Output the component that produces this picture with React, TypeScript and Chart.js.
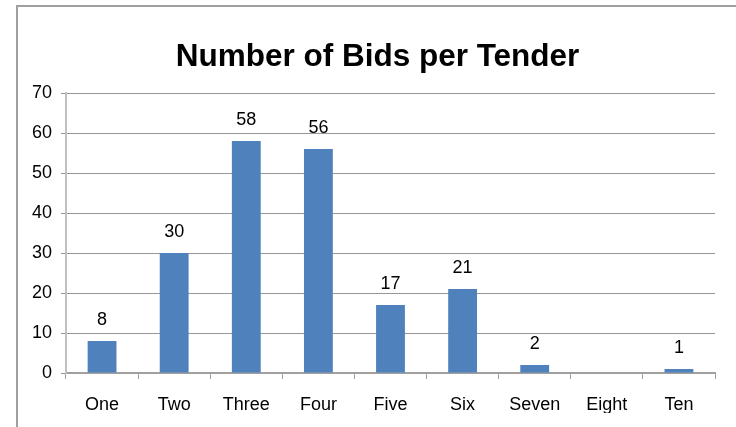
import React, { useEffect, useRef } from "react";
import { Chart, registerables } from "chart.js";

Chart.register(...registerables);

const categories = ["One", "Two", "Three", "Four", "Five", "Six", "Seven", "Eight", "Ten"];
const bids: (number | null)[] = [8, 30, 58, 56, 17, 21, 2, null, 1];
const yTicks = [0, 10, 20, 30, 40, 50, 60, 70];
const titleText = "Number of Bids per Tender";

const FONT = "'Liberation Sans', Arial, sans-serif";

const framePlugin = {
  id: "frame",
  beforeDraw(chart: any) {
    const ctx = chart.ctx;
    ctx.save();
    ctx.fillStyle = "#ffffff";
    ctx.fillRect(0, 0, chart.width, chart.height);
    ctx.strokeStyle = "#a0a0a0";
    ctx.lineWidth = 2;
    ctx.beginPath();
    ctx.moveTo(17, chart.height);
    ctx.lineTo(17, 6);
    ctx.lineTo(chart.width, 6);
    ctx.stroke();
    ctx.restore();
  },
  afterDraw(chart: any) {
    const ctx = chart.ctx;
    ctx.save();
    ctx.fillStyle = "#000000";
    ctx.font = `bold 31.5px ${FONT}`;
    ctx.textAlign = "center";
    ctx.textBaseline = "alphabetic";
    ctx.fillText(titleText, 377.5, 66);
    ctx.font = `18px ${FONT}`;
    const meta = chart.getDatasetMeta(0);
    meta.data.forEach((bar: any, i: number) => {
      const v = bids[i];
      if (v === null || v === undefined) return;
      ctx.fillText(String(v), bar.x, bar.y - 16);
    });
    ctx.restore();
  },
};

export default function App() {
  const ref = useRef<HTMLCanvasElement | null>(null);
  useEffect(() => {
    if (!ref.current) return;
    const chart = new Chart(ref.current, {
      type: "bar",
      data: {
        labels: categories,
        datasets: [
          {
            data: bids,
            backgroundColor: "#4f81bd",
            borderWidth: 0,
            barPercentage: 0.4,
            categoryPercentage: 1,
          },
        ],
      },
      plugins: [framePlugin],
      options: {
        animation: false,
        responsive: true,
        maintainAspectRatio: false,
        layout: { padding: { left: 17, right: 21, top: 93, bottom: 14 } },
        plugins: {
          legend: { display: false },
          title: { display: false },
          tooltip: { enabled: false },
        },
        scales: {
          x: {
            offset: true,
            grid: {
              offset: true,
              drawOnChartArea: false,
              drawTicks: true,
              tickLength: 6,
              color: "#a0a0a0",
              lineWidth: 1,
            },
            border: { display: true, color: "#a0a0a0", width: 2 },
            ticks: {
              color: "#000000",
              font: { family: FONT, size: 18 },
              padding: 15,
              maxRotation: 0,
              autoSkip: false,
            },
            afterFit(scale: any) {
              scale.height = 40;
            },
          },
          y: {
            min: 0,
            max: 70,
            afterBuildTicks(scale: any) {
              scale.ticks = yTicks.map((v) => ({ value: v }));
            },
            grid: {
              color: "#969696",
              lineWidth: 1,
              drawTicks: true,
              tickLength: 5,
            },
            border: { display: true, color: "#c0c0c0", width: 2 },
            ticks: {
              color: "#000000",
              font: { family: FONT, size: 18 },
              padding: 9,
            },
            afterFit(scale: any) {
              scale.width = 49;
            },
          },
        },
      },
    });
    return () => chart.destroy();
  }, []);
  return (
    <div style={{ position: "absolute", left: 0, top: 0, width: 736, height: 427 }}>
      <canvas ref={ref} />
    </div>
  );
}
